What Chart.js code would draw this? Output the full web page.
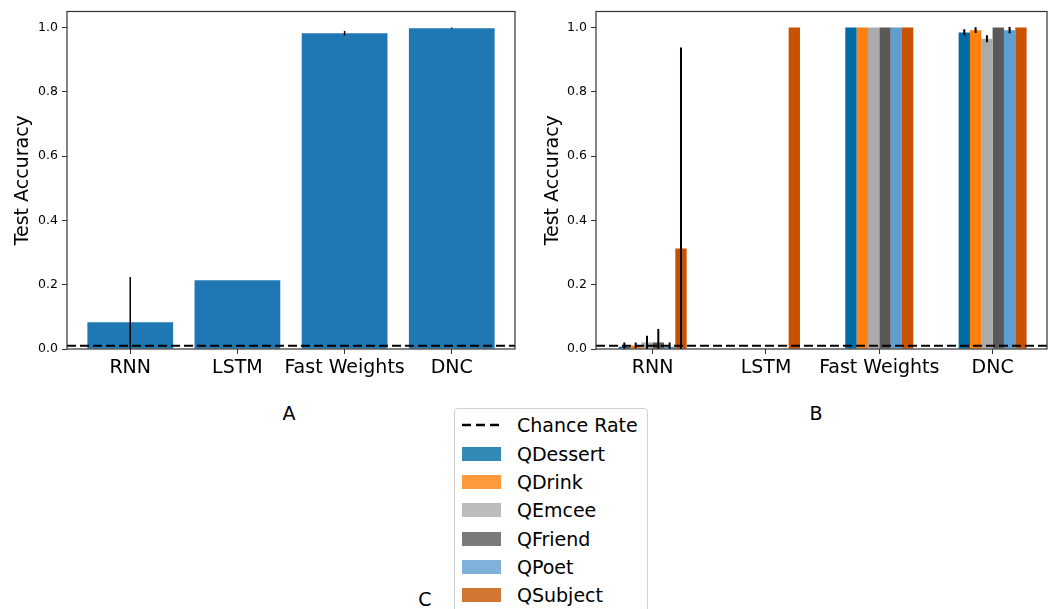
<!DOCTYPE html>
<html>
<head>
<meta charset="utf-8">
<script src="https://cdn.jsdelivr.net/npm/chart.js@4/dist/chart.umd.min.js"></script>
<style>
  body { margin: 0; background: #fff; font-family: "DejaVu Sans", sans-serif; color: #000; }
  #page { position: relative; width: 1057px; height: 609px; overflow: hidden; }
  .panel { position: absolute; top: 0; }
  .tag { position: absolute; font-size: 19px; transform: translateX(-50%); line-height: 1; }
  .legend { position: absolute; left: 454px; top: 408px; width: 192px; height: 230px;
            border: 1px solid #d0d0d0; border-radius: 4px; background: #fff; }
  .legend .row { position: absolute; left: 7px; height: 28px; display: flex; align-items: center;
                 font-size: 19px; white-space: nowrap; }
  .legend .sw { width: 39px; height: 14px; margin-right: 16px; flex: none; }
</style>
</head>
<body>
<div id="page">
  <canvas id="chartA" class="panel" style="left:0" width="530" height="400"></canvas>
  <canvas id="chartB" class="panel" style="left:530px" width="527" height="400"></canvas>
  <div class="tag" style="left:289px;top:404px">A</div>
  <div class="tag" style="left:816px;top:404px">B</div>
  <div class="tag" style="left:425px;top:590px">C</div>
  <div class="legend" id="legend"></div>
</div>
<script>
// ---- data ----
const modelNames = ['RNN', 'LSTM', 'Fast Weights', 'DNC'];
const yTicks = [0, 0.2, 0.4, 0.6, 0.8, 1.0];
const chanceRate = 0.01;

// panel A: overall accuracy
const overallAcc = [0.083, 0.214, 0.982, 0.998];
const overallErr = [0.141, 0, 0.007, 0.002];

// panel B: per-question accuracy
const taskNames   = ['QDessert', 'QDrink', 'QEmcee', 'QFriend', 'QPoet', 'QSubject'];
const qDessert    = [0.007, 0, 1.0, 0.985];
const qDessertErr = [0.013, 0, 0, 0.010];
const qDrink      = [0.011, 0, 1.0, 0.992];
const qDrinkErr   = [0.009, 0, 0, 0.009];
const qEmcee      = [0.020, 0, 1.0, 0.965];
const qEmceeErr   = [0.021, 0, 0, 0.011];
const qFriend     = [0.020, 0, 1.0, 1.0];
const qFriendErr  = [0.042, 0, 0, 0];
const qPoet       = [0.007, 0, 1.0, 0.992];
const qPoetErr    = [0.013, 0, 0, 0.010];
const qSubject    = [0.313, 1.0, 1.0, 1.0];
const qSubjectErr = [0.625, 0, 0, 0];

const taskValues = [qDessert, qDrink, qEmcee, qFriend, qPoet, qSubject];
const taskErrors = [qDessertErr, qDrinkErr, qEmceeErr, qFriendErr, qPoetErr, qSubjectErr];
const barColors    = ['#006BA4', '#FF800E', '#ABABAB', '#595959', '#5F9ED1', '#C85200'];
const legendColors = ['#3389B6', '#FF993E', '#BCBCBC', '#7A7A7A', '#7FB1DA', '#D37533'];

Chart.defaults.font.family = '"DejaVu Sans", sans-serif';
Chart.defaults.color = '#000';

const toPoints = arr => arr.map((v, i) => ({ x: i, y: v }));

// error bars, chance line and the axes frame
const extras = {
  id: 'extras',
  afterDatasetsDraw(chart, args, opts) {
    const { ctx, chartArea: a, scales: { y } } = chart;
    ctx.save();
    ctx.beginPath();
    ctx.rect(a.left, a.top, a.right - a.left, a.bottom - a.top);
    ctx.clip();
    ctx.strokeStyle = '#000';
    ctx.lineWidth = opts.errWidth;
    chart.data.datasets.forEach((ds, di) => {
      if (!ds.errors) return;
      chart.getDatasetMeta(di).data.forEach((bar, i) => {
        const e = ds.errors[i];
        if (!e) return;
        const v = ds.data[i].y;
        ctx.beginPath();
        ctx.moveTo(bar.x, y.getPixelForValue(v - e));
        ctx.lineTo(bar.x, y.getPixelForValue(v + e));
        ctx.stroke();
      });
    });
    ctx.setLineDash([9, 4]);
    ctx.lineWidth = 2;
    const cy = y.getPixelForValue(chanceRate);
    ctx.beginPath();
    ctx.moveTo(a.left, cy);
    ctx.lineTo(a.right, cy);
    ctx.stroke();
    ctx.restore();

    ctx.save();
    ctx.strokeStyle = '#333';
    ctx.lineWidth = 1.2;
    ctx.strokeRect(a.left, a.top, a.right - a.left, a.bottom - a.top);
    ctx.restore();
  }
};

function makeChart(id, datasets, cfg) {
  return new Chart(document.getElementById(id), {
    type: 'bar',
    data: { datasets },
    plugins: [extras],
    options: {
      responsive: false,
      animation: false,
      devicePixelRatio: 1,
      layout: { padding: { top: 11, right: cfg.padRight, left: 0, bottom: 0 } },
      datasets: { bar: { categoryPercentage: cfg.catPct, barPercentage: 1.0, borderWidth: 0 } },
      plugins: { legend: { display: false }, tooltip: { enabled: false }, extras: { errWidth: cfg.errWidth } },
      scales: {
        x: {
          type: 'linear',
          min: cfg.xMin,
          max: cfg.xMax,
          offset: false,
          afterBuildTicks: axis => { axis.ticks = modelNames.map((n, i) => ({ value: i })); },
          afterFit: axis => { axis.height = 51; },
          border: { display: false },
          grid: { offset: false, drawOnChartArea: false, drawTicks: true, tickLength: 5, color: '#333' },
          ticks: {
            autoSkip: false, maxRotation: 0, minRotation: 0, padding: 3,
            font: { size: 19 },
            callback: v => modelNames[v] ?? ''
          }
        },
        y: {
          min: 0,
          max: 1.05,
          afterBuildTicks: axis => { axis.ticks = yTicks.map(v => ({ value: v })); },
          afterFit: axis => { axis.width = cfg.yWidth; },
          border: { display: false },
          grid: { drawOnChartArea: false, drawTicks: true, tickLength: 5, color: '#333' },
          ticks: { padding: 4, font: { size: 12.5 }, callback: v => v.toFixed(1) },
          title: { display: true, text: 'Test Accuracy', font: { size: 19 }, padding: { top: 12, bottom: 0 } }
        }
      }
    }
  });
}

makeChart('chartA', [{
  data: toPoints(overallAcc),
  errors: overallErr,
  backgroundColor: '#1F77B4'
}], { xMin: -0.59, xMax: 3.59, catPct: 0.8, yWidth: 67, padRight: 15, errWidth: 1.5 });

makeChart('chartB', taskNames.map((name, k) => ({
  label: name,
  data: toPoints(taskValues[k]),
  errors: taskErrors[k],
  backgroundColor: barColors[k]
})), { xMin: -0.5, xMax: 3.48, catPct: 0.6, yWidth: 66, padRight: 10, errWidth: 2 });

// ---- legend ----
const legend = document.getElementById('legend');
const rowTops = [2, 31, 59, 87, 116, 144, 172];
const chanceRow = document.createElement('div');
chanceRow.className = 'row';
chanceRow.style.top = rowTops[0] + 'px';
chanceRow.innerHTML = '<svg class="sw" width="39" height="14"><line x1="0" y1="7" x2="39" y2="7" stroke="#000" stroke-width="2.5" stroke-dasharray="9,5"/></svg><span>Chance Rate</span>';
legend.appendChild(chanceRow);
taskNames.forEach((name, k) => {
  const row = document.createElement('div');
  row.className = 'row';
  row.style.top = rowTops[k + 1] + 'px';
  row.innerHTML = `<div class="sw" style="background:${legendColors[k]}"></div><span>${name}</span>`;
  legend.appendChild(row);
});
</script>
</body>
</html>
